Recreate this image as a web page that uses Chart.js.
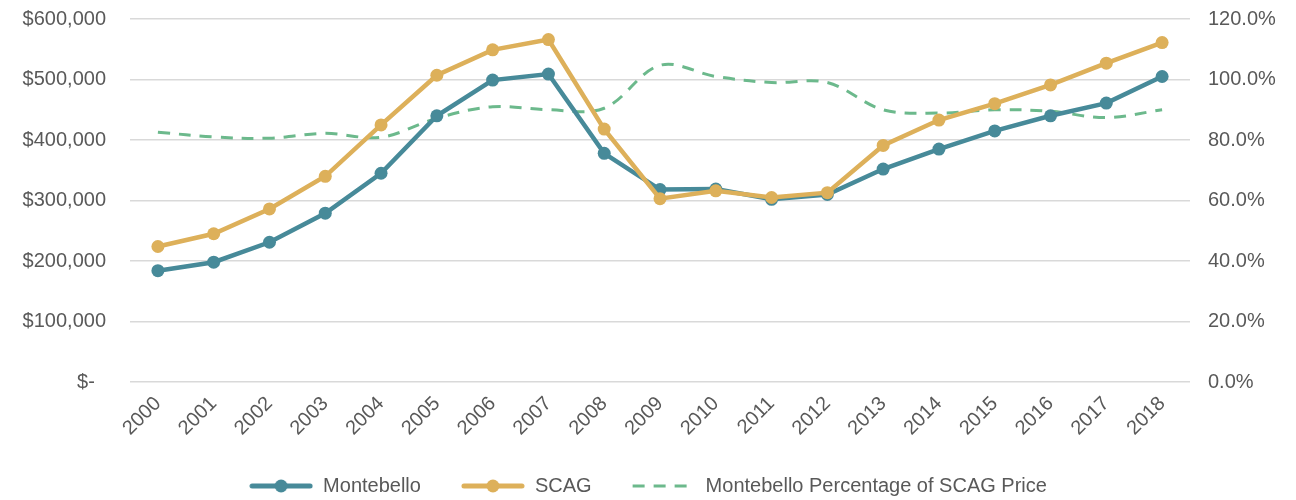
<!DOCTYPE html>
<html>
<head>
<meta charset="utf-8">
<script src="https://cdn.jsdelivr.net/npm/chart.js@4/dist/chart.umd.min.js"></script>
<style>
  html, body { margin: 0; background: #fff; }
  #wrap { width: 1296px; height: 500px; }
</style>
</head>
<body>
<div id="wrap"><canvas id="price-chart"></canvas></div>
<script>
// Chart data
const years = ['2000', '2001', '2002', '2003', '2004', '2005', '2006', '2007', '2008', '2009',
  '2010', '2011', '2012', '2013', '2014', '2015', '2016', '2017', '2018'];
const montebello = [184000, 198000, 231000, 279000, 345000, 440000, 499000, 509000, 378000, 318000,
  319000, 302000, 310000, 352000, 385000, 415000, 440000, 461000, 505000];
const scag = [224000, 245000, 286000, 340000, 425000, 507000, 549000, 566000, 418000, 303000,
  316000, 305000, 313000, 391000, 433000, 460000, 491000, 527000, 561000];
const pctOfScag = [82.6, 81.0, 80.6, 82.2, 80.9, 87.2, 91.0, 90.0, 90.5, 104.7,
  101.0, 99.0, 99.0, 90.0, 88.9, 90.0, 89.5, 87.4, 90.0];

const teal = '#478a99';
const gold = '#ddb05a';
const green = '#6cb98c';
const textColor = '#595959';
const fontFamily = "'Liberation Sans', Arial, sans-serif";

// Small legend icons: line with a dot, or a dashed line
function legendIcon(color, dashed) {
  const c = document.createElement('canvas');
  c.width = 64;
  c.height = 16;
  const ctx = c.getContext('2d');
  ctx.strokeStyle = color;
  ctx.fillStyle = color;
  if (dashed) {
    ctx.lineWidth = 3;
    ctx.setLineDash([12, 9]);
    ctx.beginPath();
    ctx.moveTo(1, 8);
    ctx.lineTo(64, 8);
    ctx.stroke();
  } else {
    ctx.lineWidth = 5;
    ctx.lineCap = 'round';
    ctx.beginPath();
    ctx.moveTo(3, 8);
    ctx.lineTo(61, 8);
    ctx.stroke();
    ctx.beginPath();
    ctx.arc(32, 8, 6.5, 0, Math.PI * 2);
    ctx.fill();
  }
  return c;
}
const icons = [legendIcon(teal, false), legendIcon(gold, false), legendIcon(green, true)];

// fixed side widths for the two value axes, no extra top/bottom padding
function fitSide(width) {
  return (axis) => {
    axis.width = width;
    axis.paddingTop = 0;
    axis.paddingBottom = 0;
  };
}

const chart = new Chart(document.querySelector('#price-chart'), {
  type: 'line',
  data: {
    labels: years,
    datasets: [{
      label: 'Montebello',
      data: montebello,
      yAxisID: 'y',
      borderColor: teal,
      backgroundColor: teal,
      borderWidth: 4.5,
      pointRadius: 6.5,
      pointBorderWidth: 0,
      order: 2
    }, {
      label: 'SCAG',
      data: scag,
      yAxisID: 'y',
      borderColor: gold,
      backgroundColor: gold,
      borderWidth: 4.5,
      pointRadius: 6.5,
      pointBorderWidth: 0,
      order: 1
    }, {
      label: 'Montebello Percentage of SCAG Price',
      data: pctOfScag,
      yAxisID: 'y1',
      borderColor: green,
      backgroundColor: green,
      borderWidth: 3,
      borderDash: [12, 9],
      tension: 0.35,
      pointRadius: 0,
      order: 3
    }]
  },
  options: {
    responsive: true,
    maintainAspectRatio: false,
    animation: false,
    layout: { padding: { top: 19, left: 0, right: 0, bottom: -6 } },
    plugins: {
      tooltip: { enabled: false },
      legend: {
        position: 'bottom',
        labels: {
          usePointStyle: true,
          pointStyleWidth: 64,
          padding: 40,
          color: textColor,
          font: { family: fontFamily, size: 20 },
          generateLabels: (c) => {
            const items = Chart.defaults.plugins.legend.labels.generateLabels(c);
            items.forEach((item) => { item.pointStyle = icons[item.datasetIndex]; });
            return items.sort((a, b) => a.datasetIndex - b.datasetIndex);
          }
        }
      }
    },
    scales: {
      x: {
        offset: true,
        grid: { display: false },
        border: { display: false },
        ticks: {
          color: textColor,
          font: { family: fontFamily, size: 20 },
          minRotation: 45,
          maxRotation: 45,
          padding: 2
        },
        afterFit: (axis) => { axis.height = 54; }
      },
      y: {
        position: 'left',
        min: 0,
        max: 600000,
        ticks: {
          stepSize: 100000,
          color: textColor,
          padding: 24,
          font: { family: fontFamily, size: 20 },
          callback: (v) => v === 0 ? '$-  ' : '$' + v.toLocaleString('en-US')
        },
        grid: { color: '#d9d9d9', lineWidth: 1.5, drawTicks: false },
        border: { display: false },
        afterFit: fitSide(130)
      },
      y1: {
        position: 'right',
        min: 0,
        max: 120,
        ticks: {
          stepSize: 20,
          color: textColor,
          padding: 18,
          font: { family: fontFamily, size: 20 },
          callback: (v) => v.toFixed(1) + '%'
        },
        grid: { display: false, drawTicks: false },
        border: { display: false },
        afterFit: fitSide(106)
      }
    }
  }
});
</script>
</body>
</html>
